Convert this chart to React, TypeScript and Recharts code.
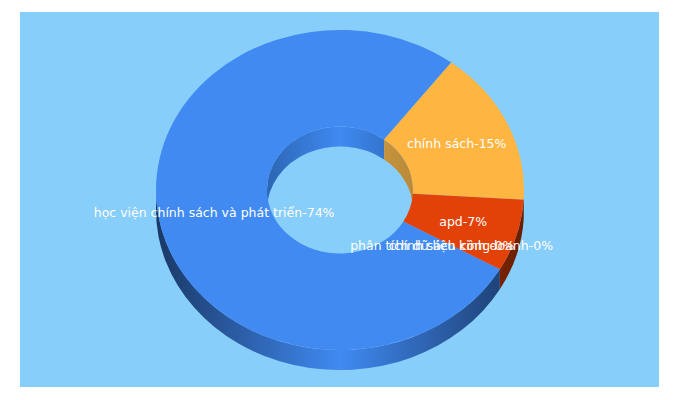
import { PieChart, Pie } from "recharts";

const SLICE_NAMES = [
  "học viện chính sách và phát triển",
  "chính sách",
  "apd",
  "phân tích dữ liệu kinh doanh",
  "chính sách công",
];
const SLICE_VALUES = [74, 15, 7, 0, 0];
const SLICE_COLORS = ["#408af2", "#ffb542", "#e24207", "#3366cc", "#dc3912"];
const OUTER_EDGE_COLORS = ["#1a3866", "#6e4f1e", "#661e00", "#1a3866", "#661e00"];
const INNER_EDGE_COLORS = ["#2c66b4", "#b98a3a", "#8a2c08", "#2c66b4", "#8a2c08"];
const INNER_MID_COLORS = ["#408af2", "#d9a040", "#a83206", "#408af2", "#a83206"];

const CX = 320;
const CY = 178;
const SQUASH = 0.87;
const DEPTH = 20;
const OUTER = 184;
const INNER = 73;

const data = SLICE_NAMES.map((name, i) => ({
  name,
  value: SLICE_VALUES[i],
  fill: SLICE_COLORS[i],
}));

const pt = (cx: number, cy: number, r: number, deg: number, dy = 0) => {
  const rad = (deg * Math.PI) / 180;
  return `${cx + r * Math.cos(rad)} ${cy - r * SQUASH * Math.sin(rad) + dy}`;
};

// ring slice squashed into an ellipse, angles come from the Pie
function TopSlice(props: any) {
  const { cx, cy, innerRadius, outerRadius, startAngle, endAngle, fill } = props;
  if (startAngle === endAngle) return null;
  const large = Math.abs(startAngle - endAngle) > 180 ? 1 : 0;
  const d = [
    `M ${pt(cx, cy, outerRadius, startAngle)}`,
    `A ${outerRadius} ${outerRadius * SQUASH} 0 ${large} 1 ${pt(cx, cy, outerRadius, endAngle)}`,
    `L ${pt(cx, cy, innerRadius, endAngle)}`,
    `A ${innerRadius} ${innerRadius * SQUASH} 0 ${large} 0 ${pt(cx, cy, innerRadius, startAngle)}`,
    "Z",
  ].join(" ");
  return <path d={d} fill={fill} stroke="none" />;
}

const clip = (start: number, end: number, lo: number, hi: number) => {
  const a = Math.min(start, hi);
  const b = Math.max(end, lo);
  return a > b ? [[a, b]] : [];
};

const wallPath = (cx: number, cy: number, r: number, a: number, b: number) =>
  [
    `M ${pt(cx, cy, r, a)}`,
    `A ${r} ${r * SQUASH} 0 0 1 ${pt(cx, cy, r, b)}`,
    `L ${pt(cx, cy, r, b, DEPTH)}`,
    `A ${r} ${r * SQUASH} 0 0 0 ${pt(cx, cy, r, a, DEPTH)}`,
    "Z",
  ].join(" ");

// side walls: outer rim shows on the lower half, hole rim on the upper half
function WallSlice(props: any) {
  const { cx, cy, innerRadius, outerRadius, startAngle, endAngle, index } = props;
  if (startAngle === endAngle) return null;
  const turns = [-720, -360, 0];
  const outerParts = turns.flatMap((t) => clip(startAngle, endAngle, t - 180, t));
  const innerParts = turns.flatMap((t) => clip(startAngle, endAngle, t, t + 180));
  return (
    <g>
      {innerParts.map(([a, b]) => (
        <path key={`i${a}`} d={wallPath(cx, cy, innerRadius, a, b)} fill={`url(#inner${index})`} />
      ))}
      {outerParts.map(([a, b]) => (
        <path key={`o${a}`} d={wallPath(cx, cy, outerRadius, a, b)} fill={`url(#outer${index})`} />
      ))}
    </g>
  );
}

function SliceLabel(props: any) {
  const { cx, cy, innerRadius, outerRadius, midAngle, name, value } = props;
  const r = (innerRadius + outerRadius) / 2;
  const rad = (midAngle * Math.PI) / 180;
  return (
    <text
      x={cx + r * Math.cos(rad)}
      y={cy - r * SQUASH * Math.sin(rad)}
      fill="#fff"
      fontSize={12.5}
      fontFamily="'DejaVu Sans', sans-serif"
      textAnchor="middle"
      dominantBaseline="central"
    >
      {`${name}-${value}%`}
    </text>
  );
}

export default function App() {
  return (
    <div
      style={{
        position: "absolute",
        left: 20,
        top: 12,
        width: 639,
        height: 375,
        background: "#87cefa",
      }}
    >
      <PieChart width={639} height={375} margin={{ top: 0, right: 0, bottom: 0, left: 0 }}>
        <defs>
          {SLICE_COLORS.map((c, i) => (
            <linearGradient
              key={`outer${i}`}
              id={`outer${i}`}
              gradientUnits="userSpaceOnUse"
              x1={CX - OUTER}
              x2={CX + OUTER}
              y1={0}
              y2={0}
            >
              <stop offset="0%" stopColor={OUTER_EDGE_COLORS[i]} />
              <stop offset="50%" stopColor={c} />
              <stop offset="100%" stopColor={OUTER_EDGE_COLORS[i]} />
            </linearGradient>
          ))}
          {SLICE_COLORS.map((c, i) => (
            <linearGradient
              key={`inner${i}`}
              id={`inner${i}`}
              gradientUnits="userSpaceOnUse"
              x1={CX - INNER}
              x2={CX + INNER}
              y1={0}
              y2={0}
            >
              <stop offset="0%" stopColor={INNER_EDGE_COLORS[i]} />
              <stop offset="50%" stopColor={INNER_MID_COLORS[i]} />
              <stop offset="100%" stopColor={INNER_EDGE_COLORS[i]} />
            </linearGradient>
          ))}
        </defs>
        <Pie
          data={data}
          dataKey="value"
          nameKey="name"
          cx={CX}
          cy={CY}
          innerRadius={INNER}
          outerRadius={OUTER}
          startAngle={-29.7}
          endAngle={-389.7}
          stroke="none"
          shape={WallSlice}
          isAnimationActive={false}
        />
        <Pie
          data={data}
          dataKey="value"
          nameKey="name"
          cx={CX}
          cy={CY}
          innerRadius={INNER}
          outerRadius={OUTER}
          startAngle={-29.7}
          endAngle={-389.7}
          stroke="none"
          shape={TopSlice}
          label={SliceLabel}
          labelLine={false}
          isAnimationActive={false}
        />
      </PieChart>
    </div>
  );
}
